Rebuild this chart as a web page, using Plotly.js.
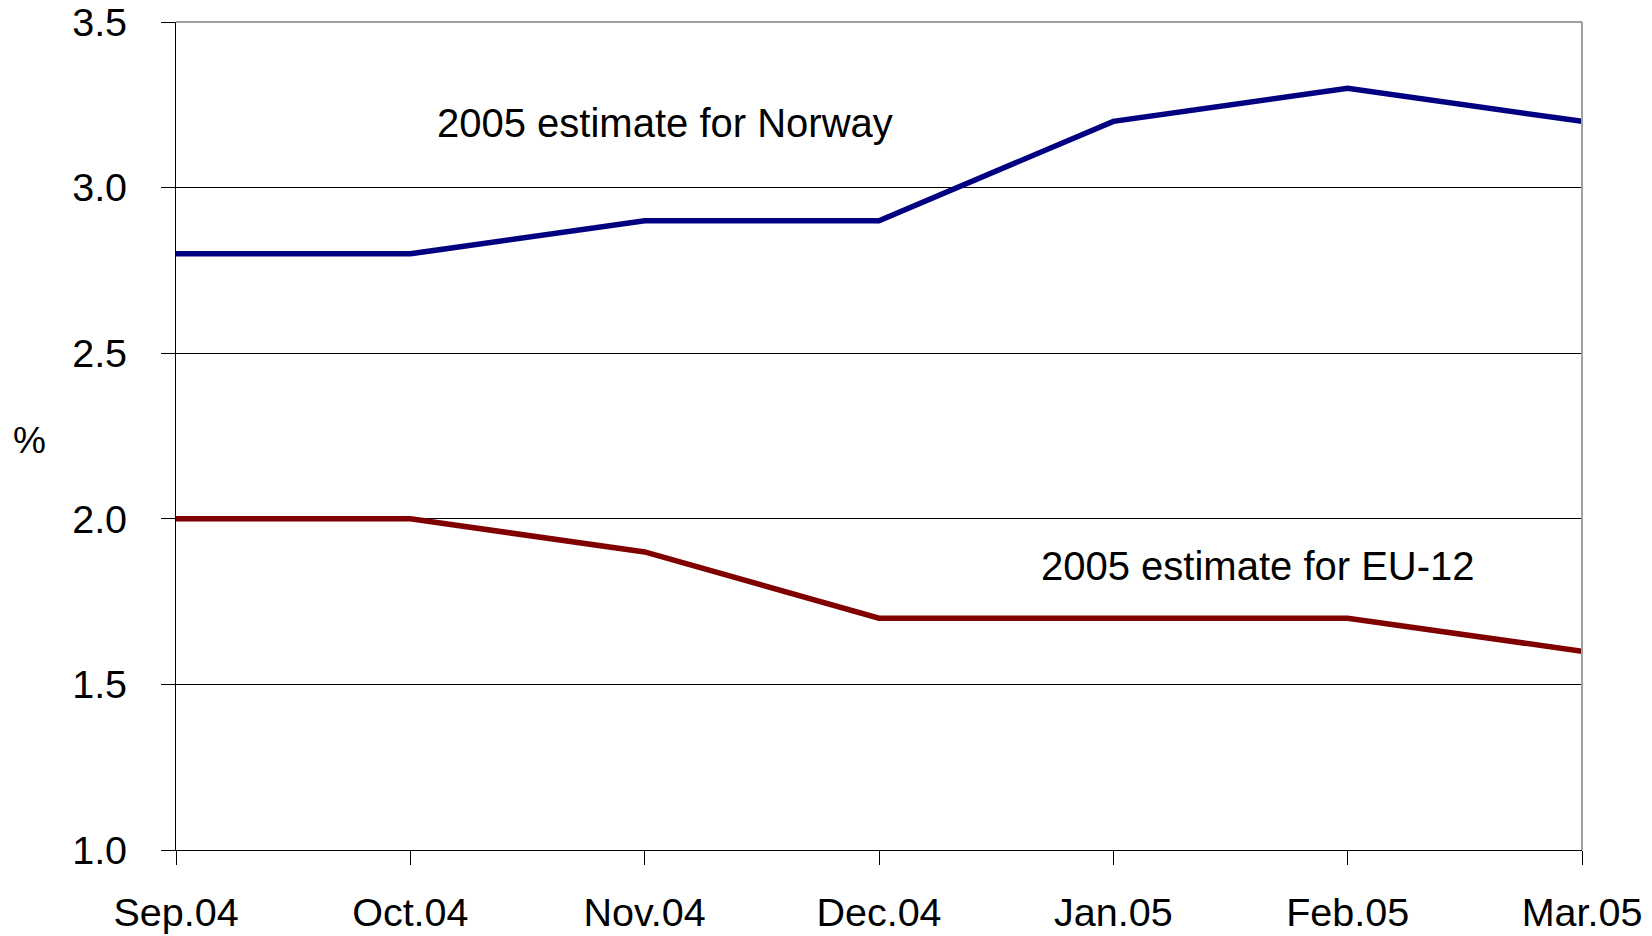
<!DOCTYPE html>
<html>
<head>
<meta charset="utf-8">
<script src="https://cdn.plot.ly/plotly-3.0.1.min.js"></script>
<style>
  html, body { margin: 0; padding: 0; background: #ffffff; }
  #chart { width: 1652px; height: 936px; }
</style>
</head>
<body>
<div id="chart"></div>
<script>
// Monthly survey dates
const months = ["Sep.04", "Oct.04", "Nov.04", "Dec.04", "Jan.05", "Feb.05", "Mar.05"];

// 2005 growth estimates, per cent
const norway = [2.8, 2.8, 2.9, 2.9, 3.2, 3.3, 3.2];
const eu12   = [2.0, 2.0, 1.9, 1.7, 1.7, 1.7, 1.6];

// Y axis ticks
const yTicks = [1.0, 1.5, 2.0, 2.5, 3.0, 3.5];

const FONT = "Liberation Sans, Arial, Helvetica, sans-serif";

const traces = [
  {
    x: months, y: norway, type: "scatter", mode: "lines",
    name: "2005 estimate for Norway",
    line: { color: "#000080", width: 5.5 }
  },
  {
    x: months, y: eu12, type: "scatter", mode: "lines",
    name: "2005 estimate for EU-12",
    line: { color: "#800000", width: 5.5 }
  }
];

const TOP = 22, BOTTOM = 86;
const plotTop = TOP, plotBottom = 936 - BOTTOM;

const layout = {
  width: 1652,
  height: 936,
  paper_bgcolor: "#ffffff",
  plot_bgcolor: "#ffffff",
  showlegend: false,
  margin: { l: 176, r: 70, t: TOP, b: BOTTOM, pad: 0 },
  font: { family: FONT, color: "#000000", size: 39 },
  xaxis: {
    type: "category",
    range: [0, months.length - 1],
    showgrid: false,
    showline: true, linecolor: "#000000", linewidth: 1,
    ticks: "outside", ticklen: 14, tickcolor: "#000000", tickwidth: 1,
    tickfont: { family: FONT, size: 39.5, color: "#000000" },
    ticklabelstandoff: 14,
    ticklabeloverflow: "allow",
    zeroline: false,
    fixedrange: true
  },
  yaxis: {
    range: [1.0, 3.5],
    tickvals: yTicks,
    tickformat: ".1f",
    showgrid: true, gridcolor: "#000000", gridwidth: 1,
    showline: true, linecolor: "#000000", linewidth: 1,
    ticks: "outside", ticklen: 14, tickcolor: "#000000", tickwidth: 1,
    tickfont: { family: FONT, size: 39.5, color: "#000000" },
    ticklabelstandoff: 26,
    ticklabeloverflow: "allow",
    zeroline: false,
    fixedrange: true
  },
  shapes: [
    // grey frame on the top and right edges of the plot area
    { type: "line", xref: "paper", yref: "paper", x0: 0, x1: 1, y0: 1, y1: 1,
      line: { color: "#a0a0a0", width: 2 }, layer: "above" },
    { type: "line", xref: "paper", yref: "paper", x0: 1, x1: 1, y0: 0, y1: 1,
      line: { color: "#a0a0a0", width: 2 }, layer: "above" }
  ],
  annotations: [
    { text: "2005 estimate for Norway", xref: "paper", yref: "paper",
      x: (665 - 176) / (1582 - 176), y: (plotBottom - 123) / (plotBottom - plotTop),
      xanchor: "center", yanchor: "middle", showarrow: false,
      font: { family: FONT, size: 40, color: "#000000" } },
    { text: "2005 estimate for EU-12", xref: "paper", yref: "paper",
      x: (1258 - 176) / (1582 - 176), y: (plotBottom - 566) / (plotBottom - plotTop),
      xanchor: "center", yanchor: "middle", showarrow: false,
      font: { family: FONT, size: 40, color: "#000000" } },
    { text: "%", xref: "paper", yref: "paper",
      x: (29 - 176) / (1582 - 176), y: (plotBottom - 440) / (plotBottom - plotTop),
      xanchor: "center", yanchor: "middle", showarrow: false,
      font: { family: FONT, size: 37, color: "#000000" } }
  ]
};

Plotly.newPlot("chart", traces, layout, { displayModeBar: false, staticPlot: true });
</script>
</body>
</html>
